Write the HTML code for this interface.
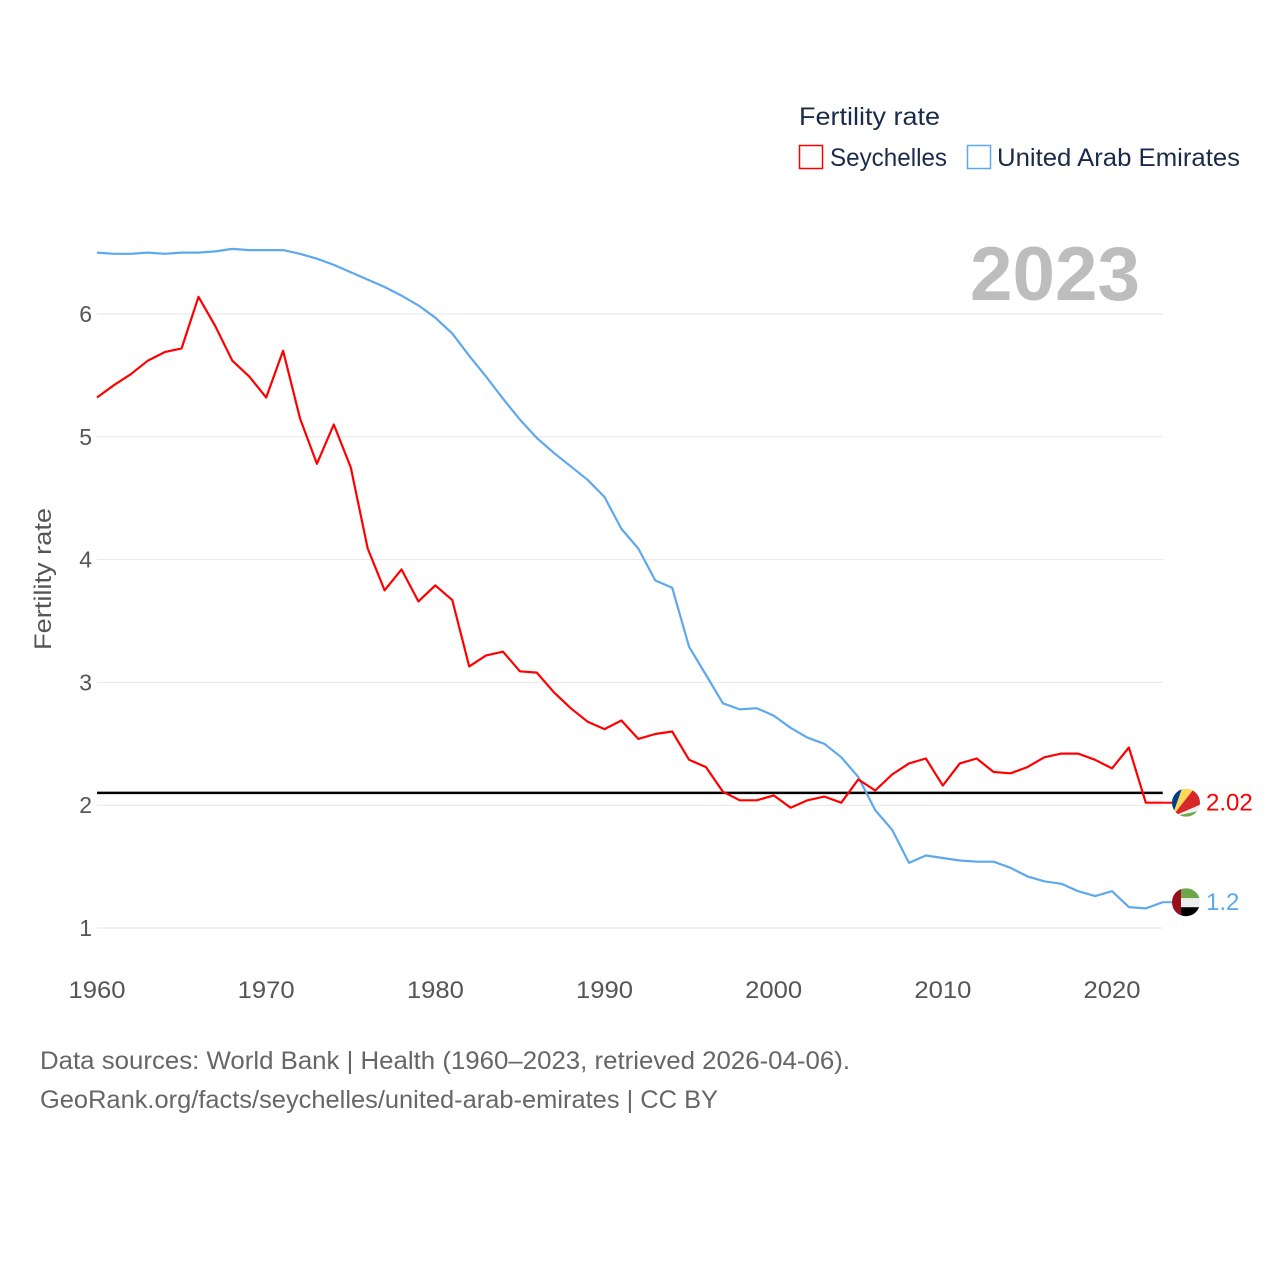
<!DOCTYPE html>
<html><head><meta charset="utf-8">
<style>
html,body{margin:0;padding:0;background:#fff;}
svg{display:block;font-family:"Liberation Sans",sans-serif;}
</style></head>
<body>
<svg id="chart" width="1280" height="1280" viewBox="0 0 1280 1280">
  <g>
    <text x="799" y="125" font-size="25" fill="#1a2b4a" textLength="141" lengthAdjust="spacingAndGlyphs">Fertility rate</text>
    <rect x="799.5" y="145.5" width="23" height="23" fill="none" stroke="#ff0000" stroke-width="1.5"/>
    <text x="830" y="166" font-size="25" fill="#1a2b4a" textLength="117" lengthAdjust="spacingAndGlyphs">Seychelles</text>
    <rect x="967.5" y="145.5" width="23" height="23" fill="none" stroke="#5ea8ee" stroke-width="1.5"/>
    <text x="997" y="166" font-size="25" fill="#1a2b4a" textLength="243" lengthAdjust="spacingAndGlyphs">United Arab Emirates</text>
  </g>
  <text x="1140" y="300" font-size="76" font-weight="bold" fill="#bdbdbd" text-anchor="end" textLength="170" lengthAdjust="spacingAndGlyphs">2023</text>
  <g id="grid"></g>
  <g id="yticks"></g>
  <g id="xticks"></g>
  <text transform="translate(51,579) rotate(-90)" font-size="24" fill="#555" text-anchor="middle" textLength="142" lengthAdjust="spacingAndGlyphs">Fertility rate</text>
  <g id="series"></g>
  <g id="ends"></g>
  <text x="40" y="1069" font-size="25" fill="#666" textLength="810" lengthAdjust="spacingAndGlyphs">Data sources: World Bank | Health (1960–2023, retrieved 2026-04-06).</text>
  <text x="40" y="1108" font-size="25" fill="#666" textLength="678" lengthAdjust="spacingAndGlyphs">GeoRank.org/facts/seychelles/united-arab-emirates | CC BY</text>
</svg>
<script>
const years = [];
for (let y = 1960; y <= 2023; y++) years.push(y);
const seychelles = [5.32,5.42,5.51,5.62,5.69,5.72,6.14,5.90,5.62,5.49,5.32,5.70,5.15,4.78,5.10,4.75,4.09,3.75,3.92,3.66,3.79,3.67,3.13,3.22,3.25,3.09,3.08,2.92,2.79,2.68,2.62,2.69,2.54,2.58,2.60,2.37,2.31,2.11,2.04,2.04,2.08,1.98,2.04,2.07,2.02,2.21,2.12,2.25,2.34,2.38,2.16,2.34,2.38,2.27,2.26,2.31,2.39,2.42,2.42,2.37,2.30,2.47,2.02,2.02];
const uae = [6.50,6.49,6.49,6.50,6.49,6.50,6.50,6.51,6.53,6.52,6.52,6.52,6.49,6.45,6.40,6.34,6.28,6.22,6.15,6.07,5.97,5.84,5.66,5.49,5.31,5.14,4.99,4.87,4.76,4.65,4.51,4.25,4.09,3.83,3.77,3.29,3.06,2.83,2.78,2.79,2.73,2.63,2.55,2.50,2.39,2.23,1.96,1.80,1.53,1.59,1.57,1.55,1.54,1.54,1.49,1.42,1.38,1.36,1.30,1.26,1.30,1.17,1.16,1.21];
const yTicks = [1,2,3,4,5,6];
const xTicks = [1960,1970,1980,1990,2000,2010,2020];
const replacementRate = 2.1;
const endLabels = ["2.02","1.2"];

const NS = "http://www.w3.org/2000/svg";
const X0 = 97, X1 = 1162.75;
function xs(yr){ return X0 + (yr - 1960) * (1112 - 97) / 60; }
function ys(v){ return 928 - (v - 1) * 122.8; }
function mk(tag, attrs, parent){ const e = document.createElementNS(NS, tag); for (const k in attrs) e.setAttribute(k, attrs[k]); parent.appendChild(e); return e; }

const grid = document.getElementById('grid'), yt = document.getElementById('yticks'), xt = document.getElementById('xticks');
yTicks.forEach(v => {
  const l = mk('line', {x1:X0, x2:X1, y1:ys(v), y2:ys(v), stroke:'#e6e6e6', 'stroke-width':1}, grid);
  
  
  const t = mk('text', {x:92, y:ys(v)+8, 'font-size':23, fill:'#555', 'text-anchor':'end'}, yt);
  t.textContent = v;
  
  
});
xTicks.forEach(v => {
  const t = mk('text', {x:xs(v), y:998, 'font-size':24, fill:'#555', 'text-anchor':'middle', textLength:57, lengthAdjust:'spacingAndGlyphs'}, xt);
  t.textContent = v;
  
  
});

const series = document.getElementById('series');
const ref = mk('line', {x1:X0, x2:X1, y1:ys(replacementRate), y2:ys(replacementRate), stroke:'#000', 'stroke-width':2.5}, series);



function line(data, color, name){
  const d = data.map((v,i) => (i ? 'L' : 'M') + xs(years[i]).toFixed(1) + ' ' + ys(v).toFixed(1)).join(' ');
  const p = mk('path', {d:d, fill:'none', stroke:color, 'stroke-width':2.2, 'stroke-linejoin':'round'}, series);
  
  
}
line(uae, '#5ea8ee', 'line-uae');
line(seychelles, '#ff0000', 'line-seychelles');

const ends = document.getElementById('ends');
function endLabel(v, color, txt, name, flag){
  const y = ys(v), cx = 1186;
  mk('line', {x1:X1, x2:cx-14, y1:y, y2:y, stroke:color, 'stroke-width':2}, ends);
  const g = mk('g', {}, ends);
  
  
  const clipId = 'c' + flag;
  const cp = mk('clipPath', {id:clipId}, g);
  mk('circle', {cx:cx, cy:y, r:14}, cp);
  const inner = mk('g', {'clip-path':'url(#' + clipId + ')'}, g);
  if (flag === 'flag-seychelles') {
    mk('rect', {x:cx-14, y:y-14, width:28, height:28, fill:'#eee'}, inner);
    mk('polygon', {points:`${cx-14},${y+14} ${cx-14},${y-14} ${cx-4},${y-14}`, fill:'#003f87'}, inner);
    mk('polygon', {points:`${cx-14},${y+14} ${cx-4},${y-14} ${cx+8},${y-14}`, fill:'#fcd856'}, inner);
    mk('polygon', {points:`${cx-14},${y+14} ${cx+8},${y-14} ${cx+14},${y-14} ${cx+14},${y+2}`, fill:'#d62828'}, inner);
    mk('polygon', {points:`${cx-14},${y+14} ${cx+14},${y+8} ${cx+14},${y+14}`, fill:'#6fa64a'}, inner);
  } else {
    mk('rect', {x:cx-14, y:y-14, width:28, height:10, fill:'#6fa64a'}, inner);
    mk('rect', {x:cx-14, y:y-4, width:28, height:9, fill:'#eee'}, inner);
    mk('rect', {x:cx-14, y:y+5, width:28, height:10, fill:'#000'}, inner);
    mk('rect', {x:cx-14, y:y-14, width:9, height:28, fill:'#9b0e1b'}, inner);
  }
  const t = mk('text', {x:1206, y:y+8, 'font-size':24, fill:color}, ends);
  t.textContent = txt;
  
  
}
endLabel(seychelles[seychelles.length-1], '#ff0000', endLabels[0], 'end-label-seychelles', 'flag-seychelles');
endLabel(uae[uae.length-1], '#5ea8ee', endLabels[1], 'end-label-uae', 'flag-uae');
</script>
</body></html>
